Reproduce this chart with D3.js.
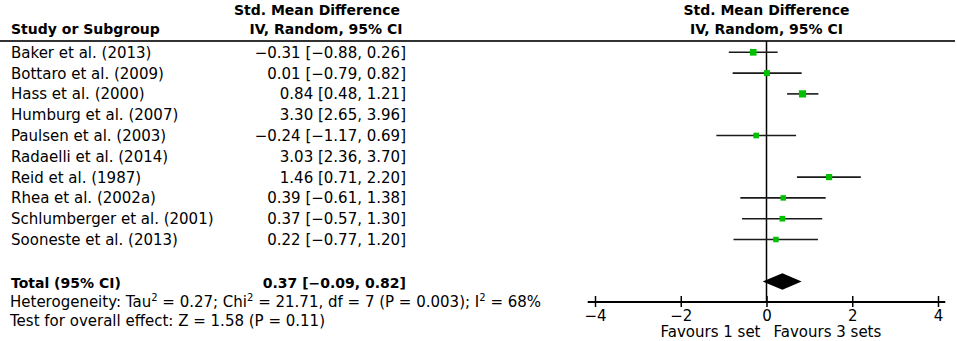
<!DOCTYPE html>
<html>
<head>
<meta charset="utf-8">
<script src="https://cdn.jsdelivr.net/npm/d3@7"></script>
<style>
  body { margin: 0; background: #fff; }
  svg { display: block; font-family: "DejaVu Sans", sans-serif; }
</style>
</head>
<body>
<div id="forest"></div>
<script>
// study rows
const studies = [
  "Baker et al. (2013)", "Bottaro et al. (2009)", "Hass et al. (2000)",
  "Humburg et al. (2007)", "Paulsen et al. (2003)", "Radaelli et al. (2014)",
  "Reid et al. (1987)", "Rhea et al. (2002a)", "Schlumberger et al. (2001)",
  "Sooneste et al. (2013)"
];
const smd    = [-0.31, 0.01, 0.84, 3.30, -0.24, 3.03, 1.46, 0.39, 0.37, 0.22];
const ciLow  = [-0.88, -0.79, 0.48, 2.65, -1.17, 2.36, 0.71, -0.61, -0.57, -0.77];
const ciHigh = [0.26, 0.82, 1.21, 3.96, 0.69, 3.70, 2.20, 1.38, 1.30, 1.20];
// weight (%); null = no marker drawn for that study
const weights = [15.1, 12.2, 17.6, null, 10.8, null, 12.9, 10.2, 10.8, 10.3];

const totalLabel = "Total (95% CI)";
const totalEst = [0.37, -0.09, 0.82];
const xTicks = [-4, -2, 0, 2, 4];
const favourLabels = ["Favours 1 set", "Favours 3 sets"];

const W = 957, H = 341;
const fmt = d3.format(".2f");

const svg = d3.select("#forest").append("svg")
  .attr("width", W).attr("height", H);

const x = d3.scaleLinear().domain([-4, 4]).range([595, 938]);
const y = d3.scalePoint().domain(studies).range([52.3, 239.5]);
const box = d3.scaleSqrt().domain([0, 17.6]).range([0, 7.2]);

const totalY = 281.5, axisY = 302, headLineY = 41;

// headers
svg.append("text").attr("x", 11).attr("y", 34)
  .attr("font-size", 14).attr("font-weight", "bold").text("Study or Subgroup");
svg.append("text").attr("x", 317).attr("y", 15).attr("text-anchor", "middle")
  .attr("font-size", 14).attr("font-weight", "bold").text("Std. Mean Difference");
svg.append("text").attr("x", 326).attr("y", 34).attr("text-anchor", "middle")
  .attr("font-size", 14).attr("font-weight", "bold").text("IV, Random, 95% CI");
svg.append("text").attr("x", x(0)).attr("y", 15).attr("text-anchor", "middle")
  .attr("font-size", 14).attr("font-weight", "bold").text("Std. Mean Difference");
svg.append("text").attr("x", x(0)).attr("y", 34).attr("text-anchor", "middle")
  .attr("font-size", 14).attr("font-weight", "bold").text("IV, Random, 95% CI");

svg.append("line")
  .attr("x1", 0).attr("x2", 955).attr("y1", headLineY).attr("y2", headLineY)
  .attr("stroke", "#333").attr("stroke-width", 2);

// study text
const rows = studies.map((s, i) => ({
  name: s, est: smd[i], lo: ciLow[i], hi: ciHigh[i], w: weights[i]
}));

svg.append("g").selectAll("text.name")
  .data(rows).join("text")
  .attr("x", 11).attr("y", d => y(d.name) + 5.5)
  .attr("font-size", 15)
  .text(d => d.name);

svg.append("g").selectAll("text.val")
  .data(rows).join("text")
  .attr("x", 406).attr("y", d => y(d.name) + 5.5)
  .attr("text-anchor", "end")
  .attr("font-size", 15)
  .text(d => fmt(d.est) + " [" + fmt(d.lo) + ", " + fmt(d.hi) + "]");

// total row text
svg.append("text").attr("x", 11).attr("y", totalY + 6)
  .attr("font-size", 14).attr("font-weight", "bold").text(totalLabel);
svg.append("text").attr("x", 406).attr("y", totalY + 6).attr("text-anchor", "end")
  .attr("font-size", 14).attr("font-weight", "bold")
  .text(fmt(totalEst[0]) + " [" + fmt(totalEst[1]) + ", " + fmt(totalEst[2]) + "]");

// heterogeneity line with superscripts
const het = svg.append("text").attr("x", 10).attr("y", 307).attr("font-size", 15);
function sup(t) { t.append("tspan").attr("dy", -6).attr("font-size", 10).text("2"); }
het.append("tspan").text("Heterogeneity: Tau");
sup(het);
het.append("tspan").attr("dy", 6).text(" = 0.27; Chi");
sup(het);
het.append("tspan").attr("dy", 6).text(" = 21.71, df = 7 (P = 0.003); I");
sup(het);
het.append("tspan").attr("dy", 6).text(" = 68%");

svg.append("text").attr("x", 10).attr("y", 325.5).attr("font-size", 15)
  .text("Test for overall effect: Z = 1.58 (P = 0.11)");

// plot: zero line
svg.append("line")
  .attr("x1", x(0)).attr("x2", x(0)).attr("y1", headLineY).attr("y2", axisY)
  .attr("stroke", "#000").attr("stroke-width", 1.5);

// CI whiskers and boxes (only for plotted studies)
const plotted = rows.filter(d => d.w != null);
svg.append("g").selectAll("line")
  .data(plotted).join("line")
  .attr("x1", d => x(d.lo)).attr("x2", d => x(d.hi))
  .attr("y1", d => y(d.name)).attr("y2", d => y(d.name))
  .attr("stroke", "#1a1a1a").attr("stroke-width", 1.6);

svg.append("g").selectAll("rect")
  .data(plotted).join("rect")
  .attr("x", d => x(d.est) - box(d.w) / 2)
  .attr("y", d => y(d.name) - box(d.w) / 2)
  .attr("width", d => box(d.w)).attr("height", d => box(d.w))
  .attr("fill", "#00c000");

// pooled diamond
const dh = 8.3;
svg.append("path")
  .attr("d", d3.line()([
    [x(totalEst[1]), totalY], [x(totalEst[0]), totalY - dh],
    [x(totalEst[2]), totalY], [x(totalEst[0]), totalY + dh]
  ]) + "Z")
  .attr("fill", "#000");

// axis
const axisG = svg.append("g")
  .attr("transform", "translate(0," + axisY + ")")
  .call(d3.axisBottom(x).tickValues(xTicks).tickSize(5).tickSizeOuter(0)
    .tickPadding(3).tickFormat(d3.format("d")));
axisG.select(".domain").remove();
axisG.selectAll(".tick line").attr("y1", -6).attr("y2", 5)
  .attr("stroke", "#000").attr("stroke-width", 1.5);
axisG.selectAll(".tick text").attr("font-size", 15)
  .attr("font-family", "DejaVu Sans").attr("fill", "#000");
axisG.append("line")
  .attr("x1", x(-4.17)).attr("x2", x(4.17))
  .attr("stroke", "#000").attr("stroke-width", 2);

svg.append("text").attr("x", x(0) - 6).attr("y", 337).attr("text-anchor", "end")
  .attr("font-size", 15).text(favourLabels[0]);
svg.append("text").attr("x", x(0) + 7).attr("y", 337)
  .attr("font-size", 15).text(favourLabels[1]);
</script>
</body>
</html>
